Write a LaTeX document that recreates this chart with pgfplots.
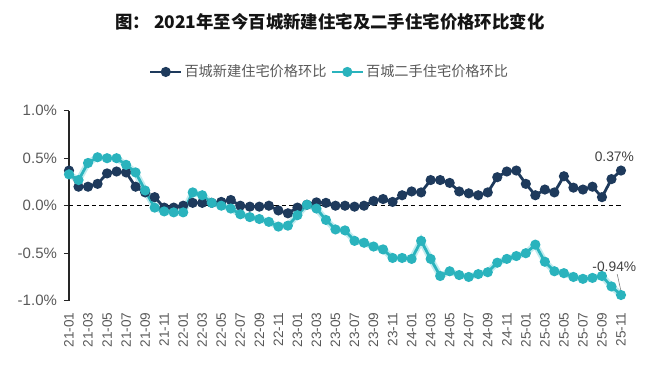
\documentclass[border=0pt]{standalone}
\usepackage{pgfplots}
\pgfplotsset{compat=1.18}
\usepackage{pgfplotstable}
\usepackage{fontspec}
\setmainfont{Liberation Sans}
\newfontfamily\cjk{Noto Sans CJK SC}
\definecolor{navy}{HTML}{1E3A5C}
\definecolor{tealc}{HTML}{2AB3BD}
\definecolor{tealglow}{HTML}{A6E3E8}
\definecolor{txtgray}{HTML}{595959}

\pgfplotstableread{
i new second
0 0.37 0.33
1 0.20 0.27
2 0.20 0.45
3 0.23 0.51
4 0.34 0.50
5 0.36 0.50
6 0.35 0.43
7 0.20 0.35
8 0.14 0.16
9 0.09 -0.02
10 -0.02 -0.06
11 -0.02 -0.07
12 0.00 -0.07
13 0.03 0.14
14 0.03 0.11
15 0.03 0.03
16 0.04 0.00
17 0.06 -0.03
18 0.00 -0.09
19 -0.01 -0.12
20 -0.01 -0.14
21 0.00 -0.17
22 -0.05 -0.22
23 -0.08 -0.21
24 -0.02 -0.10
25 0.01 0.01
26 0.035 -0.03
27 0.03 -0.15
28 0.00 -0.25
29 0.00 -0.26
30 -0.01 -0.37
31 0.00 -0.39
32 0.05 -0.43
33 0.07 -0.46
34 0.04 -0.55
35 0.11 -0.55
36 0.15 -0.56
37 0.14 -0.37
38 0.27 -0.56
39 0.27 -0.74
40 0.24 -0.69
41 0.15 -0.73
42 0.13 -0.75
43 0.11 -0.72
44 0.14 -0.70
45 0.30 -0.60
46 0.36 -0.56
47 0.37 -0.53
48 0.23 -0.50
49 0.11 -0.41
50 0.17 -0.59
51 0.14 -0.69
52 0.31 -0.71
53 0.19 -0.75
54 0.17 -0.77
55 0.20 -0.76
56 0.09 -0.74
57 0.28 -0.85
58 0.37 -0.94
}\data

\begin{document}
\begin{tikzpicture}
\path[use as bounding box] (-34.5pt,-40.15pt) rectangle (295.5pt,150.35pt);
\begin{axis}[
  scale only axis, width=276pt, height=95pt,
  xmin=0, xmax=58, ymin=-1, ymax=1,
  axis y line*=left, axis x line*=bottom,
  x axis line style={draw=none},
  y axis line style={black!85, line width=0.6pt},
  xtick={0,2,...,58},
  xticklabels={21-01,21-03,21-05,21-07,21-09,21-11,22-01,22-03,22-05,22-07,22-09,22-11,23-01,23-03,23-05,23-07,23-09,23-11,24-01,24-03,24-05,24-07,24-09,24-11,25-01,25-03,25-05,25-07,25-09,25-11},
  xtick style={draw=none},
  xticklabel style={rotate=90, anchor=east, font=\fontsize{6.8}{7}\selectfont, text=txtgray},
  ytick={-1,-0.5,0,0.5,1},
  yticklabels={-1.0\%,-0.5\%,0.0\%,0.5\%,1.0\%},
  yticklabel style={font=\fontsize{7.5}{8}\selectfont, text=txtgray},
  tick align=outside, major tick length=2.5pt,
  ytick style={black!85, line width=0.6pt},
  clip=false,
  legend columns=2,
  legend style={at={(0.472,1.204)}, anchor=center, draw=none, fill=none,
    font=\cjk\fontsize{7.1}{8}\selectfont, text=txtgray,
    /tikz/every even column/.append style={column sep=1pt},
    nodes={inner xsep=1pt}},
  legend image code/.code={\draw[mark repeat=2,mark phase=2,#1] plot coordinates {(0cm,0cm) (0.27cm,0cm) (0.54cm,0cm)};},
]
\addplot[black, dash pattern=on 2.2pt off 1.6pt, line width=0.6pt, forget plot] coordinates {(0,0) (58,0)};
\addplot[navy, line width=1.4pt, mark=*, mark size=1.8pt] table[x=i,y=new]{\data};
\addlegendentry{百城新建住宅价格环比}
\addplot[tealglow, line width=3.2pt, opacity=0.7, forget plot] table[x=i,y=second]{\data};
\addplot[tealc, line width=1.4pt, mark=*, mark size=1.8pt] table[x=i,y=second]{\data};
\addlegendentry{百城二手住宅价格环比}
\node[font=\fontsize{6.9}{8}\selectfont, text=black!75] at (axis cs:57.3,0.52) {0.37\%};
\node[font=\fontsize{6.9}{8}\selectfont, text=black!75] at (axis cs:57.3,-0.64) {-0.94\%};
\draw[gray, line width=0.3pt] (axis cs:57.6,-0.72) -- (axis cs:58,-0.9);
\end{axis}
\node[font=\cjk\bfseries\fontsize{8.7}{10}\selectfont, text=black!92] at (130.5pt,139.35pt) {图：\ 2021年至今百城新建住宅及二手住宅价格环比变化};
\end{tikzpicture}
\end{document}
